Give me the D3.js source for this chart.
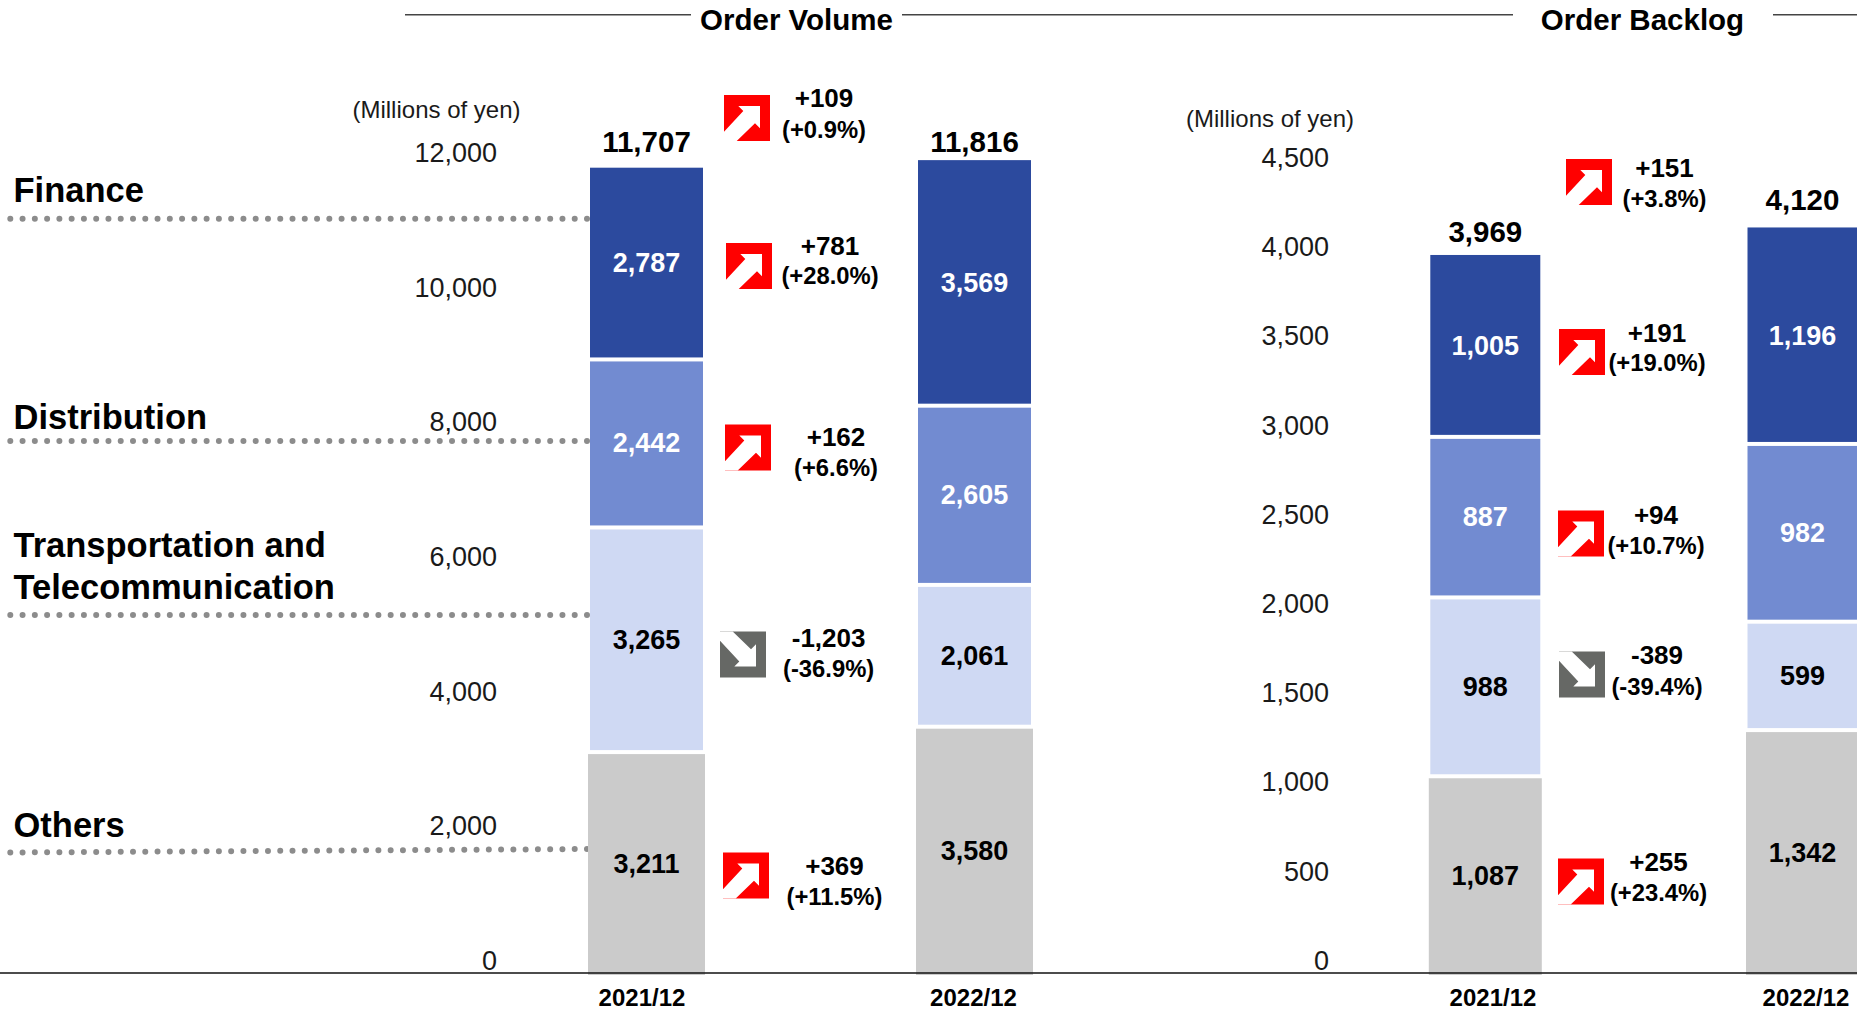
<!DOCTYPE html>
<html><head><meta charset="utf-8">
<script src="https://cdn.jsdelivr.net/npm/d3@7/dist/d3.min.js"></script>
<style>html,body{margin:0;padding:0;background:#fff;overflow:hidden}svg{display:block}text{font-family:"Liberation Sans",Arial,sans-serif}</style>
</head><body><svg id="c" width="1857" height="1015"></svg>
<script>
// ---- data ----
const periods = ["2021/12", "2022/12"];
const segments = ["Others", "Transportation", "Distribution", "Finance"];
const volumeOthers = [3211, 3580];
const volumeTransport = [3265, 2061];
const volumeDistribution = [2442, 2605];
const volumeFinance = [2787, 3569];
const volumeTotals = [11707, 11816];
const backlogOthers = [1087, 1342];
const backlogTransport = [988, 599];
const backlogDistribution = [887, 982];
const backlogFinance = [1005, 1196];
const backlogTotals = [3969, 4120];
const volumeTicks = [0, 2000, 4000, 6000, 8000, 10000, 12000];
const backlogTicks = [0, 500, 1000, 1500, 2000, 2500, 3000, 3500, 4000, 4500];
const volumeChanges = [109, 781, 162, -1203, 369];
const volumeChangePct = ["(+0.9%)", "(+28.0%)", "(+6.6%)", "(-36.9%)", "(+11.5%)"];
const backlogChanges = [151, 191, 94, -389, 255];
const backlogChangePct = ["(+3.8%)", "(+19.0%)", "(+10.7%)", "(-39.4%)", "(+23.4%)"];

// ---- layout (annotation placement, separate from data) ----
const baseY = 973;
const C = {Finance:"#2C4A9E", Distribution:"#728BD1", Transportation:"#CFD9F3", Others:"#CBCBCB"};
const svg = d3.select("#c");
const fmt = d3.format(",");
const changeText = v => (v>=0 ? "+" : "-") + fmt(Math.abs(v));
const arrowPts = [[36,11],[14.3,11],[19.3,16],[0,36.7],[0,46],[12.7,46],[31,28.3],[36,33.3]];

function txt(x, y, s, size, weight, anchor, fill){
  return svg.append("text").attr("x",x).attr("y",y).attr("dy","0.33em")
    .attr("font-size",size).attr("font-weight",weight||"normal")
    .attr("text-anchor",anchor||"middle").attr("fill",fill||"#000").text(s);
}

// dotted leaders sit behind the bars
[[218.7,218.7],[441,441],[615,615],[852.5,849]].forEach(d=>{
  svg.append("line").attr("x1",10.3).attr("x2",590).attr("y1",d[0]).attr("y2",d[1])
    .attr("stroke","#8c8c8c").attr("stroke-width",6).attr("stroke-linecap","round").attr("stroke-dasharray","0 12.27");
});

function drawPanel(o){
  const y = d3.scaleLinear().domain(o.domain).range([baseY, baseY - o.domain[1]*o.pxPerUnit]);
  const x = d3.scaleOrdinal().domain(periods).range(o.centers);
  const rows = periods.map((p,i)=>({period:p, Others:o.others[i], Transportation:o.transport[i], Distribution:o.distribution[i], Finance:o.finance[i]}));
  const stacked = d3.stack().keys(segments)(rows);

  const g = svg.append("g");
  stacked.forEach(layer=>{
    const isOthers = layer.key==="Others", isTop = layer.key==="Finance";
    const w = isOthers ? o.grayWidth : o.barWidth;
    g.selectAll(null).data(layer).join("rect")
      .attr("x",d=>x(d.data.period)-w/2).attr("width",w)
      .attr("y",d=>y(d[1])+(isTop?0:2))
      .attr("height",d=>isOthers ? y(d[0])-y(d[1]) : y(d[0])-y(d[1])-(isTop?2:4))
      .attr("fill",C[layer.key]);
    g.selectAll(null).data(layer).join("text")
      .attr("x",d=>x(d.data.period)).attr("y",d=>(y(d[0])+y(d[1]))/2+(isOthers?1.5:0)).attr("dy","0.33em")
      .attr("text-anchor","middle").attr("font-size",27).attr("font-weight","bold")
      .attr("fill",(layer.key==="Finance"||layer.key==="Distribution")?"#fff":"#000")
      .text(d=>fmt(d[1]-d[0]));
  });
  // totals
  periods.forEach((p,i)=>txt(x(p)+o.totalDx, y(o.others[i]+o.transport[i]+o.distribution[i]+o.finance[i])-o.totalGap[i], fmt(o.totals[i]), 29.5, "bold"));
  // years
  periods.forEach((p,i)=>txt(o.yearX[i], 998.5, p, 24, "bold"));

  // tick axis (labels sit on their own slightly offset scale, as in the source)
  const ty = d3.scaleLinear().domain(o.domain).range(o.tickRange);
  const ax = svg.append("g").attr("transform",`translate(${o.tickX},0)`)
    .call(d3.axisLeft(ty).tickValues(o.ticks).tickFormat(fmt).tickSize(0).tickPadding(0));
  ax.select(".domain").remove();
  ax.selectAll("text").attr("font-family","Liberation Sans, Arial, sans-serif").attr("font-size",27).attr("fill","#1a1a1a").attr("dy","0.32em");
  txt(o.unitX, o.unitY, "(Millions of yen)", 24, "normal", "middle", "#1a1a1a");

  // change callouts
  o.changes.forEach((v,i)=>{
    const [bx,by,tx,ty1,ty2] = o.callouts[i];
    const up = v>=0;
    const a = svg.append("g").attr("transform",`translate(${bx},${by})`);
    a.append("rect").attr("width",46).attr("height",46).attr("fill",up?"#FF0000":"#666865");
    a.append("polygon").attr("fill","#fff")
      .attr("points",arrowPts.map(p=>[p[0], up?p[1]:46-p[1]].join(",")).join(" "));
    txt(tx,ty1,changeText(v),26,"bold");
    txt(tx,ty2,o.pct[i],23.8,"bold");
  });
}

drawPanel({
  domain:[0,12000], pxPerUnit:0.0688, centers:[646.5,974.5], barWidth:113, grayWidth:117,
  others:volumeOthers, transport:volumeTransport, distribution:volumeDistribution, finance:volumeFinance,
  totals:volumeTotals, totalDx:0, totalGap:[25,18], yearX:[642,973.5],
  ticks:volumeTicks, tickRange:[960.7,153], tickX:497, unitX:436.5, unitY:110,
  changes:volumeChanges, pct:volumeChangePct,
  callouts:[[724,95,824,98.7,130],[726,243,830,246,276],[725,424.5,836,437.7,468],[720,631.5,828.6,638,669],[723,852.5,834.5,866,897]]
});
drawPanel({
  domain:[0,4500], pxPerUnit:0.181, centers:[1485.3,1802.5], barWidth:110, grayWidth:113,
  others:backlogOthers, transport:backlogTransport, distribution:backlogDistribution, finance:backlogFinance,
  totals:backlogTotals, totalDx:0, totalGap:[23,27], yearX:[1493,1806],
  ticks:backlogTicks, tickRange:[960.7,157.7], tickX:1329, unitX:1270, unitY:119,
  changes:backlogChanges, pct:backlogChangePct,
  callouts:[[1566,159,1664.5,168,199],[1559,329,1657,333,363],[1558,510.5,1656,515,546],[1559,651.5,1657,655,687],[1558,858.5,1658.5,862,893]]
});

// baseline
svg.append("line").attr("x1",0).attr("x2",1857).attr("y1",baseY).attr("y2",baseY).attr("stroke","#111").attr("stroke-width",1.5);

// headers
[[405,691],[902,1513],[1773,1857]].forEach(s=>svg.append("line").attr("x1",s[0]).attr("x2",s[1]).attr("y1",14.7).attr("y2",14.7).attr("stroke","#444").attr("stroke-width",1.6));
txt(796.5,20,"Order Volume",29.5,"bold");
txt(1642.5,20,"Order Backlog",29.5,"bold");

// category labels
[["Finance",190.5],["Distribution",417.5],["Transportation and",545.5],["Telecommunication",587.5],["Others",825.5]]
  .forEach(d=>txt(13.5,d[1],d[0],34.5,"bold","start"));
</script></body></html>
